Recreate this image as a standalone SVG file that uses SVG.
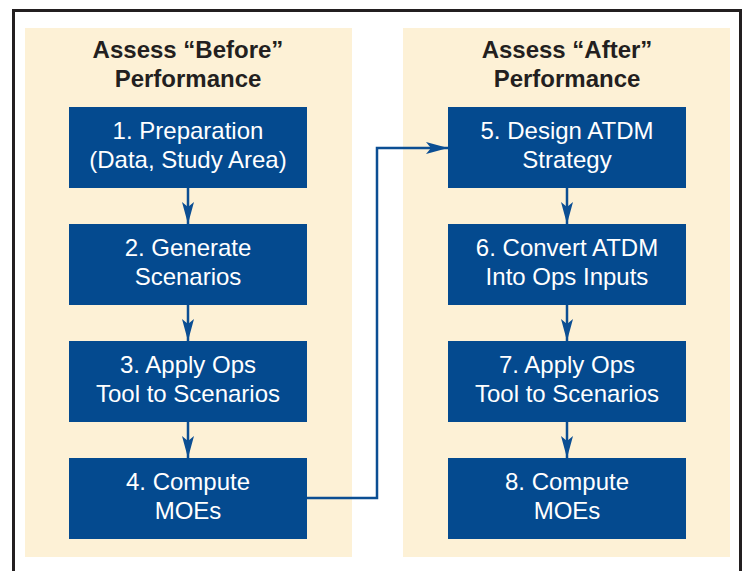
<svg xmlns="http://www.w3.org/2000/svg" width="745" height="571" viewBox="0 0 745 571">
<style>
.panel{fill:#FDF1D6}
.box{fill:#044A8F}
.title{font-family:"Liberation Sans",Arial,sans-serif;font-weight:bold;font-size:24px;fill:#231F20;text-anchor:middle}
.lbl{font-family:"Liberation Sans",Arial,sans-serif;font-size:24px;fill:#FFFFFF;text-anchor:middle}
.conn{fill:none;stroke:#0B4E93;stroke-width:2.5}
</style>
<defs>
<marker id="ah" markerUnits="userSpaceOnUse" markerWidth="22" markerHeight="12" refX="22" refY="6" orient="auto">
<path d="M0,0 L22,6 L0,12 L5,6 z" fill="#0B4E93"/>
</marker>
</defs>
<rect x="0" y="0" width="745" height="571" fill="#FFFFFF"/>
<rect x="13.5" y="10.5" width="727" height="600" fill="none" stroke="#231F20" stroke-width="3"/>
<g id="panel-before">
<rect class="panel" x="25" y="28" width="327" height="529"/>
<text class="title" x="188" y="58">Assess “Before”</text>
<text class="title" x="188" y="87">Performance</text>
</g>
<g id="panel-after">
<rect class="panel" x="403" y="28" width="327" height="529"/>
<text class="title" x="567" y="58">Assess “After”</text>
<text class="title" x="567" y="87">Performance</text>
</g>
<g id="connectors">
<line class="conn" x1="188" y1="188" x2="188" y2="224" marker-end="url(#ah)"/>
<line class="conn" x1="188" y1="305" x2="188" y2="341" marker-end="url(#ah)"/>
<line class="conn" x1="188" y1="422" x2="188" y2="458" marker-end="url(#ah)"/>
<line class="conn" x1="567" y1="188" x2="567" y2="224" marker-end="url(#ah)"/>
<line class="conn" x1="567" y1="305" x2="567" y2="341" marker-end="url(#ah)"/>
<line class="conn" x1="567" y1="422" x2="567" y2="458" marker-end="url(#ah)"/>
<path class="conn" d="M307,498 H377 V148 H448" marker-end="url(#ah)"/>
</g>
<g id="n1"><rect class="box" x="69" y="107" width="238" height="81"/><text class="lbl" x="188" y="139">1. Preparation</text><text class="lbl" x="188" y="168">(Data, Study Area)</text></g>
<g id="n2"><rect class="box" x="69" y="224" width="238" height="81"/><text class="lbl" x="188" y="256">2. Generate</text><text class="lbl" x="188" y="285">Scenarios</text></g>
<g id="n3"><rect class="box" x="69" y="341" width="238" height="81"/><text class="lbl" x="188" y="373">3. Apply Ops</text><text class="lbl" x="188" y="402">Tool to Scenarios</text></g>
<g id="n4"><rect class="box" x="69" y="458" width="238" height="81"/><text class="lbl" x="188" y="490">4. Compute</text><text class="lbl" x="188" y="519">MOEs</text></g>
<g id="n5"><rect class="box" x="448" y="107" width="238" height="81"/><text class="lbl" x="567" y="139">5. Design ATDM</text><text class="lbl" x="567" y="168">Strategy</text></g>
<g id="n6"><rect class="box" x="448" y="224" width="238" height="81"/><text class="lbl" x="567" y="256">6. Convert ATDM</text><text class="lbl" x="567" y="285">Into Ops Inputs</text></g>
<g id="n7"><rect class="box" x="448" y="341" width="238" height="81"/><text class="lbl" x="567" y="373">7. Apply Ops</text><text class="lbl" x="567" y="402">Tool to Scenarios</text></g>
<g id="n8"><rect class="box" x="448" y="458" width="238" height="81"/><text class="lbl" x="567" y="490">8. Compute</text><text class="lbl" x="567" y="519">MOEs</text></g>
</svg>
